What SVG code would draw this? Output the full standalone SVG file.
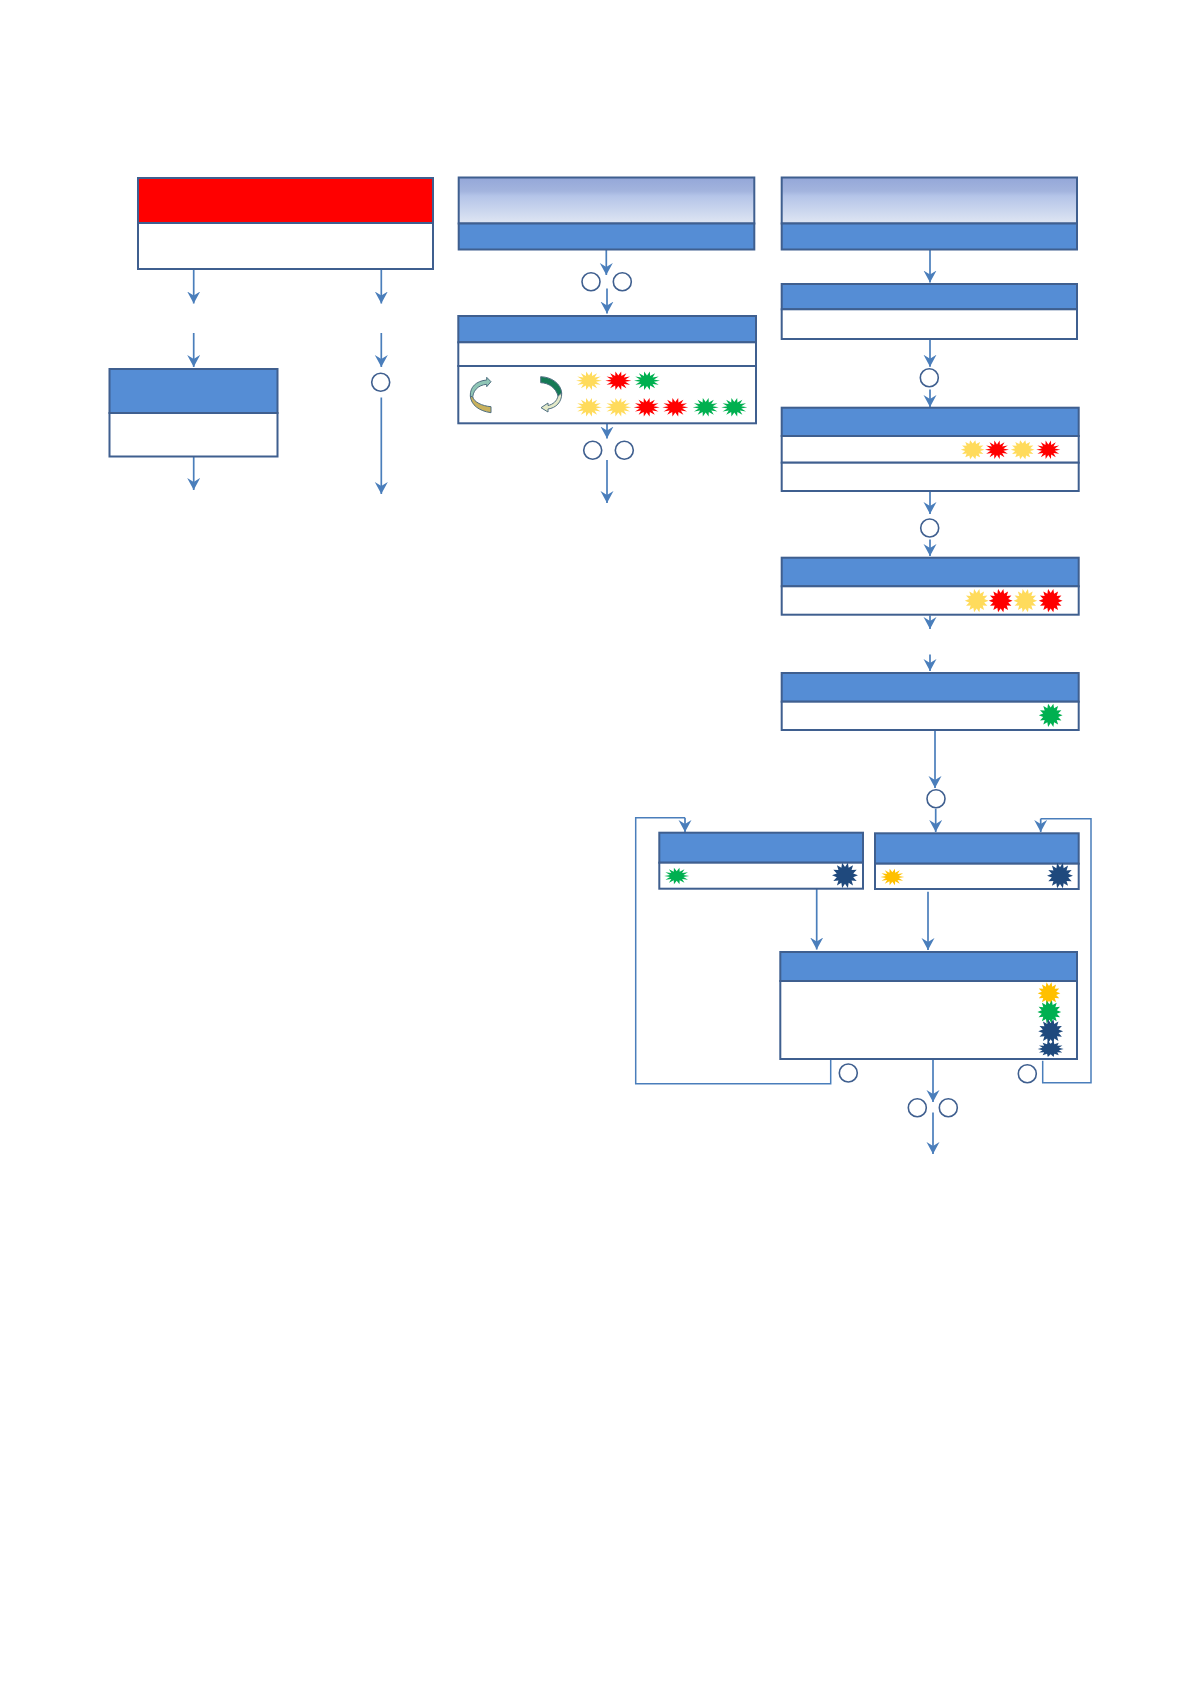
<svg xmlns="http://www.w3.org/2000/svg" width="1190" height="1684" viewBox="0 0 1190 1684">
<style>
.body{fill:#fff;stroke:#3f5f8f;stroke-width:2}
.hd{fill:#558dd5;stroke:#3f5f8f;stroke-width:2}
.red{fill:#f00;stroke:#3f5f8f;stroke-width:2}
.grad{fill:url(#g);stroke:#3f5f8f;stroke-width:2}
.c{fill:#fff;stroke:#3f5f8f;stroke-width:1.6}
.a{fill:none;stroke:#4a7ebb;stroke-width:1.7;marker-end:url(#ah)}
.l{fill:none;stroke:#4a7ebb;stroke-width:1.5}
.y{fill:#ffdb5c}.r{fill:#f00}.gn{fill:#00b050}.n{fill:#1f497d}.o{fill:#ffc000}
.cv{stroke:#4f6f80;stroke-width:1}
</style>
<defs>
<linearGradient id="g" x1="0" y1="0" x2="0" y2="1"><stop offset="0" stop-color="#94a7d8"/><stop offset=".3" stop-color="#a3b4de"/><stop offset=".4" stop-color="#b4c4e8"/><stop offset="1" stop-color="#dfe6f3"/></linearGradient>
<marker id="ah" markerUnits="userSpaceOnUse" markerWidth="14" markerHeight="14" refX="12" refY="6.5" orient="auto"><path d="M12,6.5L0,0L4,6.5L0,13Z" fill="#4a7ebb"/></marker>
<polygon id="s" points="1,0 .536,.122 .901,.434 .429,.343 .623,.782 .238,.495 .2225,.975 0,.55 -.2225,.975 -.238,.495 -.623,.782 -.429,.343 -.901,.434 -.536,.122 -1,0 -.536,-.122 -.901,-.434 -.429,-.343 -.623,-.782 -.238,-.495 -.2225,-.975 0,-.55 .2225,-.975 .238,-.495 .623,-.782 .429,-.343 .901,-.434 .536,-.122"/>
<polygon id="q" points="1.08,0 .683,.156 .973,.469 .547,.436 .673,.845 .304,.631 .24,1.053 0,.7 -.24,1.053 -.304,.631 -.673,.845 -.547,.436 -.973,.469 -.683,.156 -1.08,0 -.683,-.156 -.973,-.469 -.547,-.436 -.673,-.845 -.304,-.631 -.24,-1.053 0,-.7 .24,-1.053 .304,-.631 .673,-.845 .547,-.436 .973,-.469 .683,-.156"/>
</defs>
<rect width="1190" height="1684" fill="#fff"/>
<g id="connectors">
<path class="a" d="M193.7 269V303.5"/>
<path class="a" d="M193.7 333V367"/>
<path class="a" d="M193.7 456V490"/>
<path class="a" d="M381.3 269V303.5"/>
<path class="a" d="M381.3 333V367"/>
<path class="a" d="M381.3 397.5V494"/>
<path class="a" d="M606.3 249V275"/>
<path class="a" d="M607 288.5V313.5"/>
<path class="a" d="M607 423V438.5"/>
<path class="a" d="M607 460V503"/>
<path class="a" d="M930 249V282.5"/>
<path class="a" d="M930 339V366.7"/>
<path class="a" d="M930 389.5V407"/>
<path class="a" d="M930 491V514"/>
<path class="a" d="M930 539.5V556"/>
<path class="a" d="M930 615.5V629"/>
<path class="a" d="M930 654.5V671"/>
<path class="a" d="M935 730V788"/>
<path class="a" d="M935.7 808.7V832"/>
<path class="a" d="M816.7 889V949.5"/>
<path class="a" d="M928 891.7V950"/>
<path class="a" d="M933 1059V1102"/>
<path class="a" d="M933 1112.5V1154"/>
<path class="l" d="M830.7 1059V1083.7H635.7V817.7H685"/>
<path class="a" d="M685 817.7V832"/>
<path class="l" d="M1042.7 1060.7V1082.7H1091V818.7H1040.7"/>
<path class="a" d="M1040.7 818.7V832"/>
</g>
<g id="node-red"><rect class="red" x="138" y="178" width="295" height="45"/><rect class="body" x="138" y="223" width="295" height="46"/></g>
<g id="node-a"><rect class="hd" x="109.5" y="369" width="168" height="44"/><rect class="body" x="109.5" y="413" width="168" height="43.5"/></g>
<g id="node-b"><rect class="grad" x="458.7" y="177.5" width="295.6" height="46"/><rect class="hd" x="458.7" y="223.5" width="295.6" height="26"/></g>
<g id="node-c"><rect class="hd" x="458.3" y="316" width="297.7" height="26.3"/><rect class="body" x="458.3" y="342.3" width="297.7" height="23.7"/><rect class="body" x="458.3" y="366" width="297.7" height="57.3"/>
<path class="cv" fill="#8fc6b6" d="M491 381.7L486.7 377.3V380C476 381 470 387 470.3 396L472.7 400C472 391 478 385 486.7 384.3V386.7Z"/>
<path class="cv" fill="#c9b15c" d="M470.3 396C471 405 479 411 491 412.7V406.7C482 406 474 402 472.7 397Z"/>
<path class="cv" fill="#157a55" d="M540.7 376.7V382.7C549 383 556 388 558 396L561.7 393C561 384 552 377 540.7 376.7Z"/>
<path class="cv" fill="#e3e9c8" d="M561.7 393C562 402 556 408 548 409V412L541 407.7L548 403V405.5C553 404.5 557 401 558 396Z"/>
<use href="#s" class="y" transform="translate(589 380.7) scale(13 9.5)"/>
<use href="#s" class="r" transform="translate(618.3 380.7) scale(13 9.5)"/>
<use href="#s" class="gn" transform="translate(647 380.7) scale(13 9.5)"/>
<use href="#s" class="y" transform="translate(589 407.3) scale(13 9.5)"/>
<use href="#s" class="y" transform="translate(618.3 407.3) scale(13 9.5)"/>
<use href="#s" class="r" transform="translate(646.7 407.3) scale(13 9.5)"/>
<use href="#s" class="r" transform="translate(675.3 407.3) scale(13 9.5)"/>
<use href="#s" class="gn" transform="translate(705.7 407.3) scale(13 9.5)"/>
<use href="#s" class="gn" transform="translate(734.3 407.3) scale(13 9.5)"/>
</g>
<g id="node-d"><rect class="grad" x="781.7" y="177.5" width="295.3" height="46"/><rect class="hd" x="781.7" y="223.5" width="295.3" height="26"/></g>
<g id="node-e"><rect class="hd" x="781.7" y="284" width="295.3" height="25.3"/><rect class="body" x="781.7" y="309.3" width="295.3" height="29.7"/></g>
<g id="node-f"><rect class="hd" x="781.7" y="407.7" width="297" height="28.3"/><rect class="body" x="781.7" y="436" width="297" height="26.7"/><rect class="body" x="781.7" y="462.7" width="297" height="28.3"/>
<use href="#q" class="y" transform="translate(972.7 449.7) scale(11 9)"/>
<use href="#s" class="r" transform="translate(997 449.7) scale(12 9.5)"/>
<use href="#q" class="y" transform="translate(1022.7 449.7) scale(11 9)"/>
<use href="#s" class="r" transform="translate(1048.3 449.7) scale(12 9.5)"/>
</g>
<g id="node-g"><rect class="hd" x="781.7" y="557.7" width="297" height="28.6"/><rect class="body" x="781.7" y="586.3" width="297" height="28.4"/>
<use href="#q" class="y" transform="translate(976.7 600.7) scale(11)"/>
<use href="#q" class="r" transform="translate(1000.7 600.7) scale(11)"/>
<use href="#q" class="y" transform="translate(1025.3 600.7) scale(11)"/>
<use href="#q" class="r" transform="translate(1050.7 600.7) scale(11)"/>
</g>
<g id="node-h"><rect class="hd" x="781.7" y="673" width="297" height="28.7"/><rect class="body" x="781.7" y="701.7" width="297" height="28.3"/>
<use href="#q" class="gn" transform="translate(1050.7 715.3) scale(11)"/>
</g>
<g id="node-i"><rect class="hd" x="659.3" y="832.7" width="203.7" height="30"/><rect class="body" x="659.3" y="862.7" width="203.7" height="26"/>
<use href="#s" class="gn" transform="translate(676.7 876) scale(12.5 8.5)"/>
<use href="#q" class="n" transform="translate(845 875.3) scale(12)"/>
</g>
<g id="node-j"><rect class="hd" x="875" y="833.3" width="203.7" height="30.4"/><rect class="body" x="875" y="863.7" width="203.7" height="25.3"/>
<use href="#s" class="o" transform="translate(892.3 877) scale(12 8.5)"/>
<use href="#q" class="n" transform="translate(1060 875.7) scale(12)"/>
</g>
<g id="node-k"><rect class="hd" x="780.3" y="952" width="296.7" height="29"/><rect class="body" x="780.3" y="981" width="296.7" height="78"/>
<use href="#q" class="o" transform="translate(1049 993.3) scale(10.5)"/>
<use href="#q" class="gn" transform="translate(1049.3 1012) scale(11)"/>
<use href="#q" class="n" transform="translate(1050.7 1031.3) scale(11.5)"/>
<use href="#q" class="n" transform="translate(1050.7 1049) scale(12 7.5)"/>
</g>
<g id="circles">
<circle class="c" cx="380.7" cy="382.3" r="9"/>
<circle class="c" cx="591" cy="281.7" r="9"/><circle class="c" cx="622.3" cy="281.7" r="9"/>
<circle class="c" cx="592.7" cy="450.3" r="9"/><circle class="c" cx="624.3" cy="450.3" r="9"/>
<circle class="c" cx="929.3" cy="377.7" r="9"/>
<circle class="c" cx="929.7" cy="528" r="9"/>
<circle class="c" cx="936" cy="798.7" r="9"/>
<circle class="c" cx="848.3" cy="1073" r="9"/><circle class="c" cx="1027.3" cy="1073.7" r="9"/>
<circle class="c" cx="917.3" cy="1107.7" r="9"/><circle class="c" cx="948.3" cy="1107.7" r="9"/>
</g>
</svg>
